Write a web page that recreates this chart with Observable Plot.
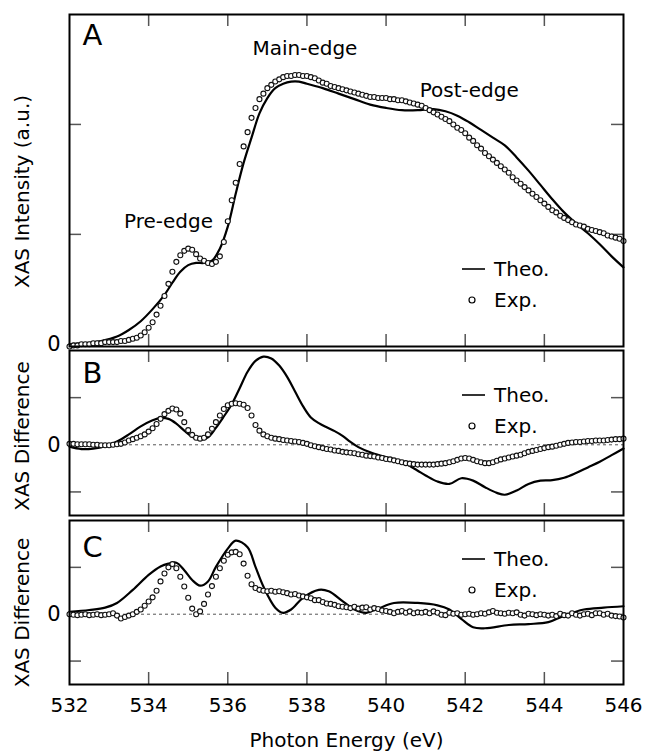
<!DOCTYPE html>
<html><head><meta charset="utf-8">
<script src="https://cdn.jsdelivr.net/npm/d3@7"></script>
<script src="https://cdn.jsdelivr.net/npm/@observablehq/plot@0.6"></script>
<style>
body{margin:0;background:#fff;font-family:"DejaVu Sans",sans-serif;}
#wrap{position:relative;width:650px;height:755px;overflow:hidden;}
#wrap svg{position:absolute;left:0;overflow:visible;background:none;}
</style></head><body><div id="wrap"></div>
<script>
// ---------- data ----------
const expEnergy = [
532.0,532.1,532.2,532.3,532.4,532.5,532.6,532.7,532.8,532.9,
533.0,533.1,533.2,533.3,533.4,533.5,533.6,533.7,533.8,533.9,
534.0,534.1,534.2,534.3,534.4,534.5,534.6,534.7,534.8,534.9,
535.0,535.1,535.2,535.3,535.4,535.5,535.6,535.7,535.8,535.9,
536.0,536.1,536.2,536.3,536.4,536.5,536.6,536.7,536.8,536.9,
537.0,537.1,537.2,537.3,537.4,537.5,537.6,537.7,537.8,537.9,
538.0,538.1,538.2,538.3,538.4,538.5,538.6,538.7,538.8,538.9,
539.0,539.1,539.2,539.3,539.4,539.5,539.6,539.7,539.8,539.9,
540.0,540.1,540.2,540.3,540.4,540.5,540.6,540.7,540.8,540.9,
541.0,541.1,541.2,541.3,541.4,541.5,541.6,541.7,541.8,541.9,
542.0,542.1,542.2,542.3,542.4,542.5,542.6,542.7,542.8,542.9,
543.0,543.1,543.2,543.3,543.4,543.5,543.6,543.7,543.8,543.9,
544.0,544.1,544.2,544.3,544.4,544.5,544.6,544.7,544.8,544.9,
545.0,545.1,545.2,545.3,545.4,545.5,545.6,545.7,545.8,545.9,
546.0];
const expA = [
-0.02,-0.01,-0.01,0,0,0,0.01,0.01,0.01,0.02,
0.02,0.02,0.02,0.03,0.03,0.04,0.05,0.06,0.08,0.11,
0.15,0.20,0.27,0.35,0.44,0.55,0.66,0.75,0.81,0.85,
0.87,0.86,0.82,0.78,0.76,0.74,0.73,0.75,0.80,0.93,
1.12,1.31,1.47,1.64,1.80,1.93,2.06,2.15,2.23,2.28,
2.33,2.36,2.39,2.41,2.43,2.44,2.44,2.45,2.45,2.44,
2.44,2.43,2.42,2.40,2.38,2.37,2.35,2.34,2.33,2.32,
2.31,2.30,2.29,2.28,2.27,2.26,2.25,2.25,2.24,2.24,
2.24,2.23,2.23,2.22,2.22,2.21,2.20,2.19,2.18,2.17,
2.15,2.13,2.11,2.09,2.07,2.05,2.03,2.00,1.97,1.95,
1.92,1.88,1.85,1.81,1.78,1.74,1.71,1.68,1.65,1.62,
1.59,1.56,1.52,1.49,1.46,1.43,1.40,1.37,1.34,1.31,
1.28,1.25,1.22,1.20,1.17,1.15,1.13,1.11,1.09,1.08,
1.07,1.05,1.04,1.03,1.02,1.01,0.99,0.98,0.97,0.96,
0.94];
const expB = [
0.02,0.02,0.01,0.01,0.01,0.01,0.00,0.00,-0.01,-0.01,
-0.01,0.00,0.01,0.02,0.05,0.09,0.12,0.15,0.18,0.22,
0.28,0.35,0.44,0.55,0.65,0.72,0.77,0.75,0.66,0.48,
0.31,0.21,0.15,0.13,0.15,0.22,0.34,0.48,0.62,0.76,
0.84,0.87,0.88,0.87,0.85,0.78,0.62,0.42,0.30,0.22,
0.18,0.15,0.13,0.12,0.10,0.09,0.08,0.07,0.06,0.04,
0.02,-0.01,-0.03,-0.05,-0.07,-0.09,-0.10,-0.12,-0.13,-0.15,
-0.16,-0.17,-0.18,-0.20,-0.21,-0.23,-0.24,-0.25,-0.27,-0.28,
-0.30,-0.31,-0.33,-0.35,-0.37,-0.39,-0.40,-0.41,-0.42,-0.42,
-0.42,-0.42,-0.42,-0.41,-0.40,-0.39,-0.37,-0.35,-0.32,-0.29,
-0.28,-0.29,-0.32,-0.35,-0.37,-0.39,-0.39,-0.37,-0.34,-0.31,
-0.29,-0.27,-0.25,-0.23,-0.21,-0.18,-0.15,-0.13,-0.11,-0.09,
-0.07,-0.05,-0.04,-0.02,0.00,0.02,0.04,0.05,0.06,0.06,
0.07,0.08,0.08,0.09,0.09,0.09,0.10,0.11,0.12,0.12,
0.13];
const expC = [
0.00,-0.01,-0.02,-0.01,0.00,-0.02,-0.01,0.00,-0.02,-0.01,
0.00,0.02,-0.03,-0.09,-0.06,-0.03,0.00,0.05,0.10,0.18,
0.27,0.36,0.50,0.70,0.87,1.00,1.07,0.98,0.80,0.59,
0.35,0.12,0.00,0.06,0.22,0.42,0.60,0.80,0.98,1.14,
1.27,1.32,1.33,1.28,1.08,0.82,0.64,0.56,0.52,0.50,
0.49,0.50,0.48,0.49,0.47,0.45,0.42,0.43,0.40,0.38,
0.36,0.34,0.30,0.30,0.26,0.23,0.22,0.20,0.17,0.16,
0.15,0.13,0.16,0.12,0.14,0.15,0.10,0.13,0.11,0.08,
0.07,0.05,0.02,0.05,0.07,0.03,0.06,0.02,0.04,0.03,
0.05,0.02,0.06,0.03,-0.01,-0.02,0.03,0.01,0.02,-0.01,
0.00,0.01,-0.01,0.00,0.02,0.01,0.04,0.07,0.03,0.02,
0.01,0.03,0.02,0.04,-0.01,-0.03,0.01,0.00,-0.02,0.00,
-0.01,-0.03,-0.01,-0.04,0.01,-0.02,-0.03,0.02,-0.01,-0.03,
0.00,0.01,-0.02,0.02,0.02,-0.01,0.01,-0.03,-0.04,-0.05,
-0.07];

const theoEnergyA = [532.0,532.4,532.8,533.2,533.5,533.8,534.1,534.4,534.6,534.8,535.0,535.2,535.4,535.6,535.8,536.0,536.2,536.4,536.6,536.8,537.0,537.2,537.4,537.6,537.8,538.0,538.4,538.8,539.2,539.6,540.0,540.4,540.8,541.2,541.5,541.8,542.1,542.4,542.7,543.0,543.3,543.6,543.9,544.2,544.5,544.8,545.1,545.4,545.7,546.0];
const theoA = [0.00,0.01,0.03,0.07,0.13,0.21,0.32,0.45,0.56,0.66,0.72,0.74,0.74,0.76,0.87,1.07,1.37,1.65,1.88,2.10,2.24,2.33,2.37,2.39,2.39,2.37,2.33,2.28,2.23,2.18,2.15,2.13,2.13,2.14,2.12,2.08,2.02,1.95,1.88,1.81,1.70,1.58,1.45,1.32,1.20,1.10,1.01,0.91,0.80,0.70];

const theoEnergyB = [532.0,532.3,532.6,532.9,533.2,533.5,533.8,534.1,534.3,534.5,534.7,534.9,535.1,535.3,535.5,535.7,535.9,536.1,536.3,536.5,536.7,536.9,537.1,537.3,537.5,537.7,537.9,538.1,538.3,538.5,538.7,538.9,539.1,539.3,539.6,539.9,540.2,540.5,540.8,541.0,541.3,541.6,541.9,542.2,542.5,542.8,543.0,543.3,543.6,543.9,544.2,544.5,544.8,545.1,545.4,545.7,546.0];
const theoB = [-0.04,-0.09,-0.08,-0.03,0.07,0.22,0.39,0.52,0.57,0.55,0.45,0.30,0.17,0.11,0.16,0.36,0.60,0.86,1.20,1.55,1.78,1.87,1.83,1.68,1.44,1.13,0.82,0.58,0.46,0.37,0.29,0.19,0.06,-0.05,-0.16,-0.24,-0.31,-0.40,-0.55,-0.65,-0.78,-0.83,-0.71,-0.76,-0.90,-1.02,-1.06,-0.97,-0.83,-0.76,-0.75,-0.70,-0.60,-0.48,-0.36,-0.22,-0.08];

const theoEnergyC = [532.0,532.5,532.9,533.2,533.6,534.0,534.3,534.5,534.7,534.9,535.1,535.3,535.5,535.7,536.0,536.2,536.5,536.7,536.9,537.2,537.4,537.6,537.9,538.3,538.55,538.9,539.2,539.5,539.8,540.2,540.8,541.3,541.6,541.9,542.2,542.5,543.1,543.6,544.1,544.5,545.0,545.5,546.0];
const theoC = [0.05,0.09,0.14,0.24,0.52,0.84,1.02,1.08,1.10,0.94,0.73,0.61,0.70,1.01,1.40,1.57,1.43,1.01,0.59,0.14,0.03,0.10,0.35,0.52,0.49,0.28,0.10,0.03,0.12,0.24,0.24,0.19,0.10,-0.10,-0.28,-0.30,-0.23,-0.21,-0.17,-0.03,0.10,0.14,0.17];

const xTickLabels = [532,534,536,538,540,542,544,546];
const xInnerTicks = [534,536,538,540,542,544];
const yTicksA = [1,2];
const yTicksDiff = [-1,1];
const annoLabels = ["Pre-edge","Main-edge","Post-edge"];
const annoX = [534.5,537.95,542.1];
const annoY = [1.12,2.69,2.31];
const panelLetters = ["A","B","C"];
const legendLabels = ["Theo.","Exp."];

// ---------- drawing ----------
const FONT = "DejaVu Sans, sans-serif";
const wrap = document.getElementById("wrap");
const ML = 69, MR = 27, W = 650, TICK = 12;

function panel(o) {
  const innerH = o.height - o.mt - o.mb, innerW = W - ML - MR;
  const theo = o.theoX.map((x,i)=>({x, y:o.theoY[i]}));
  const exp = expEnergy.map((x,i)=>({x, y:o.expY[i]}));
  const tickStyle = {stroke:"#555", strokeWidth:1.5};
  const marks = [
    Plot.tickX(xInnerTicks, {x:d=>d, insetTop: innerH-TICK, ...tickStyle}),
    Plot.tickX(xInnerTicks, {x:d=>d, insetBottom: innerH-TICK, ...tickStyle}),
    Plot.tickY(o.yTicks, {y:d=>d, insetRight: innerW-TICK, ...tickStyle}),
    Plot.tickY(o.yTicks, {y:d=>d, insetLeft: innerW-TICK, ...tickStyle}),
  ];
  if (o.zero) marks.push(Plot.ruleY([0], {stroke:"#555", strokeWidth:1, strokeDasharray:"3,3"}));
  marks.push(
    Plot.line(theo, {x:"x", y:"y", stroke:"#000", strokeWidth:2.2, curve:"catmull-rom"}),
    Plot.dot(exp, {x:"x", y:"y", r:2.5, stroke:"#111", strokeWidth:1.1, fill:"white"}),
    Plot.frame({stroke:"#000", strokeWidth:2}),
    Plot.axisY([0], {tickSize:0, tickPadding:9, fontSize:21, label:null, tickFormat:d=>String(d)}),
    Plot.text([o.letter], {frameAnchor:"top-left", text:d=>d, dx:13, dy:o.letterDy, fontSize:29, textAnchor:"start", lineAnchor:"middle"}),
    Plot.text([o.ylabel], {frameAnchor:"left", text:d=>d, rotate:-90, dx:-47, dy:o.ylabelDy, fontSize:20, textAnchor:"middle", lineAnchor:"middle"})
  );
  if (o.annot) marks.push(Plot.text(annoLabels.map((t,i)=>({t, x:annoX[i], y:annoY[i]})), {x:"x", y:"y", text:"t", fontSize:20}));
  if (o.xaxis) marks.push(Plot.axisX(xTickLabels, {tickSize:0, tickPadding:13, fontSize:20, label:"Photon Energy (eV)", labelAnchor:"center", labelOffset:62, labelArrow:"none"}));
  const svg = Plot.plot({
    width:W, height:o.height, marginLeft:ML, marginRight:MR, marginTop:o.mt, marginBottom:o.mb,
    x:{domain:[532,546], axis: o.xaxis ? undefined : null},
    y:{domain:o.ydom},
    style:{fontFamily:FONT, fontSize:"20px", background:"none", overflow:"visible", color:"#000"},
    marks
  });
  svg.style.top = o.top + "px";
  wrap.appendChild(svg);
}

panel({top:0, height:347, mt:14, mb:1, ydom:[-0.02,3.0], theoX:theoEnergyA, theoY:theoA, expY:expA,
  yTicks:yTicksA, zero:false, annot:true, letter:panelLetters[0], letterDy:21, ylabel:"XAS Intensity (a.u.)", ylabelDy:11});
panel({top:340, height:180, mt:10, mb:5, ydom:[-1.5,2.0], theoX:theoEnergyB, theoY:theoB, expY:expB,
  yTicks:yTicksDiff, zero:true, letter:panelLetters[1], letterDy:23, ylabel:"XAS Difference", ylabelDy:3});
panel({top:510, height:245, mt:10, mb:71, ydom:[-1.5,2.0], theoX:theoEnergyC, theoY:theoC, expY:expC,
  yTicks:yTicksDiff, zero:true, xaxis:true, letter:panelLetters[2], letterDy:27, ylabel:"XAS Difference", ylabelDy:10});

// legends (one per panel)
const legendTops = [269, 395, 559];
const leg = d3.select(wrap).append("svg").attr("width",650).attr("height",755).style("top","0px").style("pointer-events","none");
legendTops.forEach(t => {
  leg.append("line").attr("x1",462).attr("x2",485).attr("y1",t).attr("y2",t).attr("stroke","#000").attr("stroke-width",1.6);
  leg.append("circle").attr("cx",472).attr("cy",t+31).attr("r",3).attr("fill","white").attr("stroke","#000").attr("stroke-width",1.2);
  leg.append("text").attr("x",494).attr("y",t).attr("dy","0.35em").attr("font-family",FONT).attr("font-size",20).text(legendLabels[0]);
  leg.append("text").attr("x",494).attr("y",t+31).attr("dy","0.35em").attr("font-family",FONT).attr("font-size",20).text(legendLabels[1]);
});
</script></body></html>
